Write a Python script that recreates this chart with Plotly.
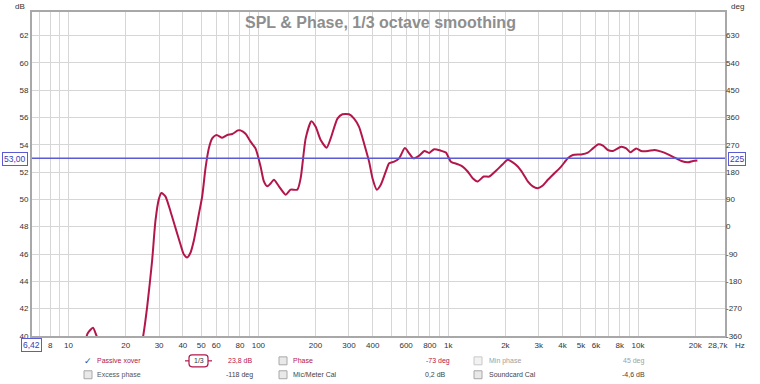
import math
import plotly.graph_objects as go

# ---------------- data ----------------
freq_hz = [12.0, 12.6, 13.45, 14.1, 15.5, 18.0, 21.0, 23.5,
           24.7, 25.93, 27.55, 28.68, 29.86, 30.85, 32.38, 34.42, 36.58, 38.86, 40.45, 42.16,
           43.87, 45.66, 48.53, 50.58, 52.66, 54.82, 57.11, 60.18, 64.5, 68.55, 72.84, 77.97,
           80.5, 85.6, 90.95, 96.7, 102.7, 106.9, 111.4, 115.9, 120.7, 128.3, 139.2, 147.9,
           160.4, 167.0, 177.5, 190.2, 200.4, 212.9, 229.0, 240.4, 260.9, 277.2, 300.3, 319.2,
           339.1, 360.3, 383.0, 399.0, 420.5, 441.5, 469.1, 488.4, 518.8, 551.3, 590.9, 622.6,
           655.2, 703.1, 748.8, 793.7, 843.5, 915.2, 972.5, 1033, 1121, 1191, 1266, 1345, 1429,
           1538, 1646, 1785, 1937, 2058, 2187, 2324, 2470, 2624, 2789, 2964, 3150, 3346, 3626,
           3933, 4267, 4534, 5015, 5439, 5781, 6143, 6528, 6937, 7372, 8152, 8664, 9129, 9783,
           10396, 11277, 12220, 13255, 14384, 15583, 16905, 18339, 19486, 20535]
spl_db = [39.0, 40.18, 40.6, 39.96, 38.8, 37.2, 37.0, 38.6,
          39.96, 42.09, 45.49, 48.4, 49.98, 50.46, 50.22, 49.13, 47.91, 46.71, 45.98, 45.75,
          46.09, 46.95, 48.89, 50.22, 52.28, 53.73, 54.46, 54.71, 54.51, 54.71, 54.78, 55.05,
          55.05, 54.8, 54.22, 53.71, 52.4, 51.31, 50.95, 51.16, 51.43, 50.95, 50.34, 50.71,
          50.71, 51.55, 54.46, 55.72, 55.31, 54.34, 53.78, 54.46, 55.91, 56.23, 56.23, 55.91,
          55.31, 54.09, 52.76, 51.55, 50.71, 51.07, 52.04, 52.64, 52.76, 53.0, 53.75, 53.37,
          53.0, 53.2, 53.54, 53.4, 53.67, 53.56, 53.42, 52.76, 52.57, 52.4, 52.04, 51.55, 51.31,
          51.67, 51.67, 52.09, 52.57, 52.89, 52.71, 52.4, 51.91, 51.31, 50.95, 50.82, 51.02, 51.43, 51.91,
          52.4, 53.0, 53.25, 53.29, 53.42, 53.73, 54.02, 53.93, 53.61, 53.54, 53.85, 53.73, 53.44, 53.73,
          53.54, 53.54, 53.61, 53.49, 53.29, 53.05, 52.81, 52.71, 52.81, 52.84]

grid_freqs = [7, 8, 9, 10, 20, 30, 40, 50, 60, 70, 80, 90, 100, 200, 300, 400, 500, 600, 700, 800, 900,
              1000, 2000, 3000, 4000, 5000, 6000, 7000, 8000, 9000, 10000, 20000]
grid_labels = ["", "8", "", "10", "20", "30", "40", "50", "60", "", "80", "", "100", "200", "300", "400",
               "", "600", "", "800", "", "1k", "2k", "3k", "4k", "5k", "6k", "", "8k", "", "10k", "20k"]
db_ticks = [40, 42, 44, 46, 48, 50, 52, 54, 56, 58, 60, 62]
deg_ticks = [-360, -270, -180, -90, 0, 90, 180, 270, 360, 450, 540, 630]

f_min, f_max = 6.42, 28700
db_min, db_max = 40, 63.71
cursor_db = 53.0
cursor_deg = 225
deg_per_db = 45

title = "SPL & Phase, 1/3 octave smoothing"

# ---------------- styling ----------------
CURVE = "#B3164B"
BLUE = "#5B5BD6"
BLUE_TXT = "#3A3AB8"
GRID = "#d6d6d6"
FRAME = "#a8a8a8"
FONT = "Liberation Sans"

PL, PR, PT, PB = 32, 725, 10, 336
W, H = PR - PL, PB - PT


def px(x):
    return (x - PL) / W


def py(y):
    return (PB - y) / H


fig = go.Figure()
fig.add_trace(go.Scatter(x=freq_hz, y=spl_db, mode="lines",
                         line=dict(color=CURVE, width=2, shape="spline", smoothing=0.6),
                         showlegend=False, hoverinfo="skip"))
# phase axis carrier (no phase curve displayed)
fig.add_trace(go.Scatter(x=freq_hz, y=[None] * len(freq_hz), yaxis="y2", mode="lines",
                         showlegend=False, hoverinfo="skip"))

# cursor lines
fig.add_shape(type="line", xref="paper", yref="y", x0=0, x1=1, y0=cursor_db, y1=cursor_db,
              line=dict(color=BLUE, width=1.5))
fig.add_shape(type="line", xref="x", yref="paper", x0=math.log10(f_min), x1=math.log10(f_min),
              y0=0, y1=1, line=dict(color=BLUE, width=1.5))

ann = []


def text(x, y, s, color="#444", size=7, anchor="left", bold=False, **kw):
    ann.append(dict(x=px(x), y=py(y), xref="paper", yref="paper", text=s, showarrow=False,
                    xanchor=anchor, yanchor="middle",
                    font=dict(family=FONT, size=size, color=color,
                              weight="bold" if bold else "normal"), **kw))


# title and axis units
text(380, 21, title, color="#8e8e8e", size=16, anchor="center", bold=True)
text(20, 4, "dB", color="#333", size=8, anchor="center")
text(737, 4, "deg", color="#333", size=8, anchor="center")
text(718, 346, "28,7k", color="#333", size=8, anchor="center")
text(740, 346, "Hz", color="#333", size=8, anchor="center")

# cursor value boxes
text(14.5, 157.5, "53,00", color=BLUE_TXT, size=8.5, anchor="center",
     bordercolor=BLUE, borderwidth=1, borderpad=1, bgcolor="white")
text(737, 157.5, f"{cursor_deg}", color=BLUE_TXT, size=8.5, anchor="center",
     bordercolor=BLUE, borderwidth=1, borderpad=1, bgcolor="white")
text(31.5, 345, "6,42", color=BLUE_TXT, size=8.5, anchor="center",
     bordercolor=BLUE, borderwidth=1, borderpad=1, bgcolor="white")

# legend panel (rounded box)
shapes = []


def rounded_box(x0, y0, x1, y1, r):
    pts = [
        f"M{px(x0 + r)},{py(y0)}", f"L{px(x1 - r)},{py(y0)}",
        f"Q{px(x1)},{py(y0)} {px(x1)},{py(y0 + r)}", f"L{px(x1)},{py(y1 - r)}",
        f"Q{px(x1)},{py(y1)} {px(x1 - r)},{py(y1)}", f"L{px(x0 + r)},{py(y1)}",
        f"Q{px(x0)},{py(y1)} {px(x0)},{py(y1 - r)}", f"L{px(x0)},{py(y0 + r)}",
        f"Q{px(x0)},{py(y0)} {px(x0 + r)},{py(y0)}", "Z"]
    return " ".join(pts)


shapes.append(dict(type="path", xref="paper", yref="paper", path=rounded_box(78, 352.5, 682, 383, 4),
                   line=dict(color="#bdbdbd", width=1), fillcolor="white", layer="above"))


def checkbox(x, y, checked=False, light=False):
    shapes.append(dict(type="rect", xref="paper", yref="paper", x0=px(x - 4), x1=px(x + 4),
                       y0=py(y + 4), y1=py(y - 4),
                       line=dict(color="#c8c8c8" if light else "#a8a8a8", width=1),
                       fillcolor="#f2f2f2" if light else "#e9e9e9", layer="above"))
    if checked:
        ann.append(dict(x=px(x), y=py(y), xref="paper", yref="paper", text="✓", showarrow=False,
                        xanchor="center", yanchor="middle",
                        font=dict(family="DejaVu Sans", size=9, color="#2a4a9a")))


r1, r2 = 361, 375
checkbox(88, r1, checked=True)
text(95, r1, "Passive xover", color=CURVE)
shapes.append(dict(type="path", xref="paper", yref="paper", path=rounded_box(189, 355, 208, 367, 3),
                   line=dict(color=CURVE, width=1.2), fillcolor="white", layer="above"))
shapes.append(dict(type="line", xref="paper", yref="paper", x0=px(185), x1=px(189), y0=py(r1), y1=py(r1),
                   line=dict(color=CURVE, width=1.2), layer="above"))
shapes.append(dict(type="line", xref="paper", yref="paper", x0=px(208), x1=px(212), y0=py(r1), y1=py(r1),
                   line=dict(color=CURVE, width=1.2), layer="above"))
text(198.5, r1, "1/3", color="#333", size=7, anchor="center")
text(254, r1, "23,8 dB", color=CURVE, anchor="right")
checkbox(283, r1)
text(291, r1, "Phase", color=CURVE)
text(452, r1, "-73 deg", color=CURVE, anchor="right")
checkbox(478, r1, light=True)
text(487, r1, "Min phase", color="#a0a0a0")
text(647, r1, "45 deg", color="#a0a0a0", anchor="right")

checkbox(88, r2)
text(95, r2, "Excess phase", color="#555")
text(255, r2, "-118 deg", color="#444", anchor="right")
checkbox(283, r2)
text(291, r2, "Mic/Meter Cal", color="#444")
text(448, r2, "0,2 dB", color="#444", anchor="right")
checkbox(478, r2)
text(487, r2, "Soundcard Cal", color="#444")
text(647, r2, "-4,6 dB", color="#444", anchor="right")

fig.update_layout(
    width=760, height=384, autosize=False,
    margin=dict(l=PL, r=760 - PR, t=PT, b=384 - PB),
    paper_bgcolor="white", plot_bgcolor="white",
    showlegend=False,
    xaxis=dict(type="log", range=[math.log10(f_min), math.log10(f_max)],
               tickmode="array", tickvals=grid_freqs, ticktext=grid_labels,
               showgrid=True, gridcolor=GRID, gridwidth=1, ticks="", zeroline=False,
               showline=True, mirror=True, linecolor=FRAME, linewidth=2,
               tickfont=dict(family=FONT, size=8, color="#333")),
    yaxis=dict(range=[db_min, db_max], tickmode="array", tickvals=db_ticks,
               ticktext=[str(v) for v in db_ticks],
               showgrid=True, gridcolor=GRID, gridwidth=1, ticks="", zeroline=False,
               showline=True, mirror=True, linecolor=FRAME, linewidth=2,
               tickfont=dict(family=FONT, size=8, color="#333")),
    yaxis2=dict(overlaying="y", side="right",
                range=[cursor_deg - (cursor_db - db_min) * deg_per_db,
                       cursor_deg + (db_max - cursor_db) * deg_per_db],
                tickmode="array", tickvals=deg_ticks, ticktext=[str(v) for v in deg_ticks],
                showgrid=False, zeroline=False, ticks="", showline=False,
                tickfont=dict(family=FONT, size=8, color="#333")),
    shapes=shapes,
    annotations=ann,
)

fig.write_html("out.html", config={"displayModeBar": False},
               post_script="document.body.style.margin='0px';document.body.style.overflow='hidden';")
